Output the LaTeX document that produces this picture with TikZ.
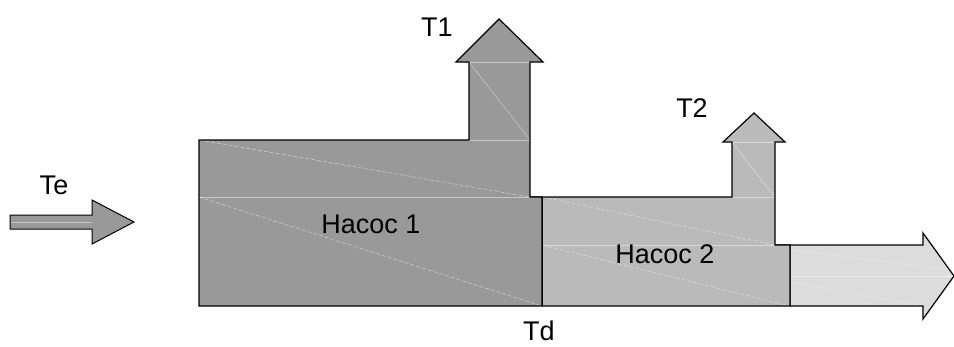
\documentclass[tikz,border=0pt]{standalone}
\usepackage{fontspec}
\setmainfont{Liberation Sans}
\definecolor{gA}{HTML}{999999}
\definecolor{gB}{HTML}{BABABA}
\definecolor{gC}{HTML}{DCDCDC}
\begin{document}
\begin{tikzpicture}[x=1pt,y=-1pt,
  flow/.style={draw=black,line width=1.2pt,line join=miter},
  streak/.style={draw=white,opacity=0.45,line width=0.6pt},
  dstreak/.style={draw=white,opacity=0.5,line width=0.6pt,dash pattern=on 4pt off 2pt},
  lbl/.style={font=\fontsize{27}{31}\selectfont,inner sep=0pt}]
\useasboundingbox (0,0) rectangle (954,346);
% block 3 (outgoing)
\fill[gC] (775,245) -- (923,245) -- (923,233) -- (954,276) -- (923,319) -- (923,306) -- (790,306) -- (790,245) -- cycle;
\draw[streak] (790,276) -- (954,276);
\draw[dstreak] (790,250) -- (954,270);
\draw[dstreak] (790,282) -- (923,306);
\draw[flow] (775,245) -- (923,245) -- (923,233) -- (954,276) -- (923,319) -- (923,306) -- (790,306) -- (790,245);
% block 2
\fill[gB] (530,197) -- (732,197) -- (732,142) -- (723,142) -- (754,113) -- (785,142) -- (775,142) -- (775,245) -- (790,245) -- (790,306) -- (542,306) -- (542,197) -- cycle;
\draw[streak] (542,245) -- (775,245);
\draw[streak] (732,142) -- (775,142);
\draw[streak] (732,197) -- (775,197);
\draw[streak] (732,142) -- (775,197);
\draw[dstreak] (542,197) -- (775,245);
\draw[dstreak] (542,245) -- (790,306);
\draw[flow] (530,197) -- (732,197) -- (732,142) -- (723,142) -- (754,113) -- (785,142) -- (775,142) -- (775,245) -- (790,245) -- (790,306) -- (542,306);
% block 1
\fill[gA] (199,140) -- (469,140) -- (469,62) -- (456,62) -- (499,19) -- (543,62) -- (530,62) -- (530,197) -- (542,197) -- (542,306) -- (199,306) -- cycle;
\draw[streak] (199,197) -- (530,197);
\draw[streak] (469,62) -- (530,62);
\draw[streak] (469,140) -- (530,140);
\draw[streak] (469,62) -- (530,140);
\draw[dstreak] (199,140) -- (530,197);
\draw[dstreak] (199,197) -- (542,306);
\draw[flow] (199,140) -- (469,140) -- (469,62) -- (456,62) -- (499,19) -- (543,62) -- (530,62) -- (530,197) -- (542,197) -- (542,306) -- (199,306) -- cycle;
\draw[flow,line width=1pt] (542,197) -- (542,306);
% incoming arrow
\fill[gA] (10,215) -- (92,215) -- (92,200) -- (134,222) -- (92,244) -- (92,229) -- (10,229) -- cycle;
\draw[streak] (10,222) -- (92,222);
\draw[flow,line width=1pt] (10,215) -- (92,215) -- (92,200) -- (134,222) -- (92,244) -- (92,229) -- (10,229) -- cycle;
% labels
\node[lbl] (te) at (54,185) {Te};
\node[lbl] (t1) at (437,27) {T1};
\node[lbl] (t2) at (692,108) {T2};
\node[lbl] (td) at (539,331) {Td};
\node[lbl] (h1) at (371,224) {Hacoc 1};
\node[lbl] (h2) at (665,254) {Hacoc 2};
\end{tikzpicture}
\end{document}
